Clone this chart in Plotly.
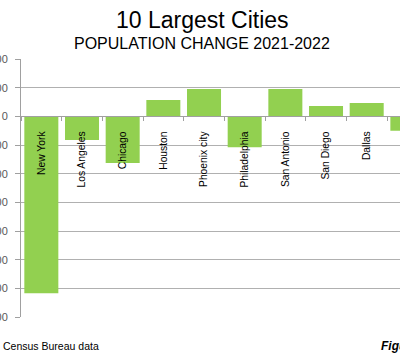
import plotly.graph_objects as go

cities = ["New York", "Los Angeles", "Chicago", "Houston", "Phoenix city",
          "Philadelphia", "San Antonio", "San Diego", "Dallas", "San Jose"]
change = [-123500, -16500, -32600, 11400, 19000, -21600, 19000, 7200, 9300, -10000]

y_min, y_max, y_step = -140000, 40000, 20000

FONT = "Liberation Sans, Arial, sans-serif"
GREEN = "#92d050"
GRID = "#b0b0b0"
AXIS = "#a0a0a0"

W, H = 400, 364
ML, MR, MT, MB = 21, 0, 59, 47

fig = go.Figure(go.Bar(x=cities, y=change, marker=dict(color=GREEN, line=dict(width=0)),
                       width=0.836))

fig.update_layout(
    width=W, height=H,
    margin=dict(l=ML, r=MR, t=MT, b=MB, pad=0),
    plot_bgcolor="white", paper_bgcolor="white",
    showlegend=False,
    font=dict(family=FONT, color="black"),
    xaxis=dict(
        type="category", range=[-0.5, -0.5 + (W - ML - MR) / 40.67], autorange=False,
        anchor="free", position=(0 - y_min) / (y_max - y_min),
        showline=True, linecolor=AXIS, linewidth=1,
        ticks="outside", tickson="boundaries", ticklen=4, tickcolor=AXIS,
        tickangle=-90, tickfont=dict(size=10.3, color="black", family=FONT),
        ticklabelstandoff=10,
        showgrid=False, automargin=False, fixedrange=True,
    ),
    yaxis=dict(
        range=[y_min, y_max], autorange=False, dtick=y_step, tick0=0,
        tickformat=",", showgrid=True, gridcolor=GRID, gridwidth=1,
        zeroline=False, showline=True, linecolor=AXIS, linewidth=1,
        ticks="outside", ticklen=5, tickcolor=AXIS,
        tickfont=dict(size=11, color="#595959", family=FONT),
        ticklabelstandoff=5, automargin=False, fixedrange=True,
    ),
    annotations=[
        dict(text="10 Largest Cities", x=202, y=H - 20, xref="paper", yref="paper",
             showarrow=False, font=dict(size=23, color="black", family=FONT),
             xanchor="center", yanchor="middle"),
        dict(text="POPULATION CHANGE 2021-2022", x=202, y=H - 44, xref="paper", yref="paper",
             showarrow=False, font=dict(size=16, color="black", family=FONT),
             xanchor="center", yanchor="middle"),
        dict(text="Census Bureau data", x=1, y=H - 346, xref="paper", yref="paper",
             showarrow=False, font=dict(size=10.5, color="black", family=FONT),
             xanchor="left", yanchor="middle"),
        dict(text="<b><i>Figure 1</i></b>", x=379, y=H - 346, xref="paper", yref="paper",
             showarrow=False, font=dict(size=12, color="black", family=FONT),
             xanchor="left", yanchor="middle"),
    ],
)

# convert pixel-based annotation coords to paper fractions
pw, ph = W - ML - MR, H - MT - MB
for a in fig.layout.annotations:
    a.x = (a.x - ML) / pw
    a.y = (a.y - MB) / ph

fig.write_html("out.html", config=dict(displayModeBar=False),
               post_script="document.body.style.margin='0';document.body.style.overflow='hidden';")
